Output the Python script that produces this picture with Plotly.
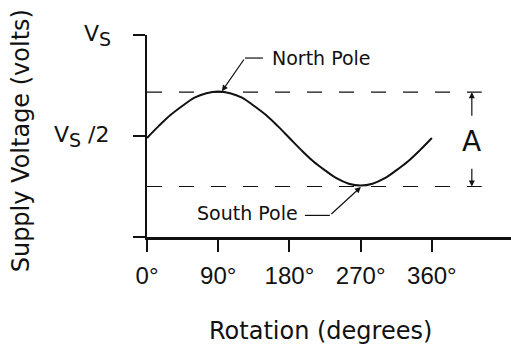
import plotly.graph_objects as go

# ---- data ----
rotation_deg = [0, 15, 30, 45, 60, 75, 90, 105, 120, 135, 150, 165, 180,
                195, 210, 225, 240, 255, 270, 285, 300, 315, 330, 345, 360]
supply_voltage = [0.49, 0.55, 0.605, 0.65, 0.69, 0.712, 0.72, 0.712, 0.69, 0.65, 0.605, 0.55, 0.49,
                  0.43, 0.375, 0.33, 0.29, 0.264, 0.255, 0.264, 0.29, 0.33, 0.375, 0.43, 0.49]
x_tick_vals = [0, 90, 180, 270, 360]
x_tick_text = ["0°", "90°", "180°", "270°", "360°"]
y_tick_vals = [0, 0.5, 1]
y_label_vals = [1, 0.5]
y_label_text = ["V<sub><span style='font-size:19px'>S</span></sub>",
                "V<sub><span style='font-size:19px'>S</span></sub> /2"]
north_level = 0.717
south_level = 0.25
dashed_end = 423

FONT = "DejaVu Sans, Arial, sans-serif"
TICKFONT = "Liberation Sans, Arial, sans-serif"
BLACK = "#111111"

fig = go.Figure()
fig.add_trace(go.Scatter(x=rotation_deg, y=supply_voltage, mode="lines",
                         line=dict(color=BLACK, width=2, shape="spline"),
                         hoverinfo="skip", showlegend=False))

shapes = []
for lvl in (north_level, south_level):
    shapes.append(dict(type="line", xref="x", yref="y", x0=0, x1=dashed_end, y0=lvl, y1=lvl,
                       line=dict(color=BLACK, width=1.2, dash="15px,17px")))
# leader stubs
shapes.append(dict(type="line", xref="x", yref="y", x0=123.8, x1=146.5, y0=0.886, y1=0.886,
                   line=dict(color=BLACK, width=1.2)))
shapes.append(dict(type="line", xref="x", yref="y", x0=199.6, x1=231.1, y0=0.107, y1=0.107,
                   line=dict(color=BLACK, width=1.2)))

annotations = []
# y tick labels
y_label_px_left = [-0.178, -0.262]
for v, t, xl in zip(y_label_vals, y_label_text, y_label_px_left):
    annotations.append(dict(x=xl, y=v, xref="paper", yref="y", text=t, showarrow=False,
                            xanchor="left", yanchor="middle",
                            font=dict(family=FONT, size=22, color=BLACK)))
# North pole
annotations.append(dict(x=156, y=0.886, xref="x", yref="y", text="North Pole", showarrow=False,
                        xanchor="left", yanchor="middle", font=dict(family=FONT, size=19, color=BLACK)))
annotations.append(dict(x=94.7, y=0.722, ax=123.8, ay=0.886, xref="x", yref="y", axref="x", ayref="y",
                        text="", showarrow=True, arrowhead=2, arrowsize=1, arrowwidth=1.2,
                        arrowcolor=BLACK, standoff=0))
# South pole
annotations.append(dict(x=193, y=0.117, xref="x", yref="y", text="South Pole", showarrow=False,
                        xanchor="right", yanchor="middle", font=dict(family=FONT, size=19, color=BLACK)))
annotations.append(dict(x=270.3, y=0.248, ax=231.1, ay=0.107, xref="x", yref="y", axref="x", ayref="y",
                        text="", showarrow=True, arrowhead=2, arrowsize=1, arrowwidth=1.2,
                        arrowcolor=BLACK, standoff=0))
# amplitude arrows
annotations.append(dict(x=410.5, y=north_level, ax=410.5, ay=0.593, xref="x", yref="y", axref="x", ayref="y",
                        text="", showarrow=True, arrowhead=2, arrowsize=1, arrowwidth=1.2,
                        arrowcolor=BLACK, standoff=0))
annotations.append(dict(x=410.5, y=south_level, ax=410.5, ay=0.345, xref="x", yref="y", axref="x", ayref="y",
                        text="", showarrow=True, arrowhead=2, arrowsize=1, arrowwidth=1.2,
                        arrowcolor=BLACK, standoff=0))
annotations.append(dict(x=410.5, y=0.475, xref="x", yref="y", text="A", showarrow=False,
                        xanchor="center", yanchor="middle", font=dict(family=FONT, size=28, color=BLACK)))
# axis titles
annotations.append(dict(x=219.2, y=-0.464, xref="x", yref="paper", text="Rotation (degrees)",
                        showarrow=False, xanchor="center", yanchor="middle",
                        font=dict(family=FONT, size=24, color=BLACK)))
annotations.append(dict(x=-0.346, y=0.474, xref="paper", yref="paper", text="Supply Voltage (volts)",
                        showarrow=False, xanchor="center", yanchor="middle", textangle=-90,
                        font=dict(family=FONT, size=24, color=BLACK)))

fig.update_layout(
    width=511, height=345,
    margin=dict(l=147, r=0, t=35, b=108, pad=0),
    paper_bgcolor="white", plot_bgcolor="white",
    shapes=shapes, annotations=annotations,
    xaxis=dict(range=[0, 460], showgrid=False, zeroline=False, showline=True,
               linecolor=BLACK, linewidth=2.5, ticks="outside", ticklen=12, tickwidth=2,
               tickcolor=BLACK, tickvals=x_tick_vals, ticktext=x_tick_text,
               ticklabelstandoff=3,
               tickfont=dict(family=TICKFONT, size=24, color=BLACK)),
    yaxis=dict(range=[0, 1], showgrid=False, zeroline=False, showline=True,
               linecolor=BLACK, linewidth=2, ticks="outside", ticklen=12, tickwidth=2,
               tickcolor=BLACK, tickvals=y_tick_vals, showticklabels=False),
)

fig.write_html("out.html", config={"displayModeBar": False},
               post_script="document.body.style.margin='0px';document.body.style.overflow='hidden';")
